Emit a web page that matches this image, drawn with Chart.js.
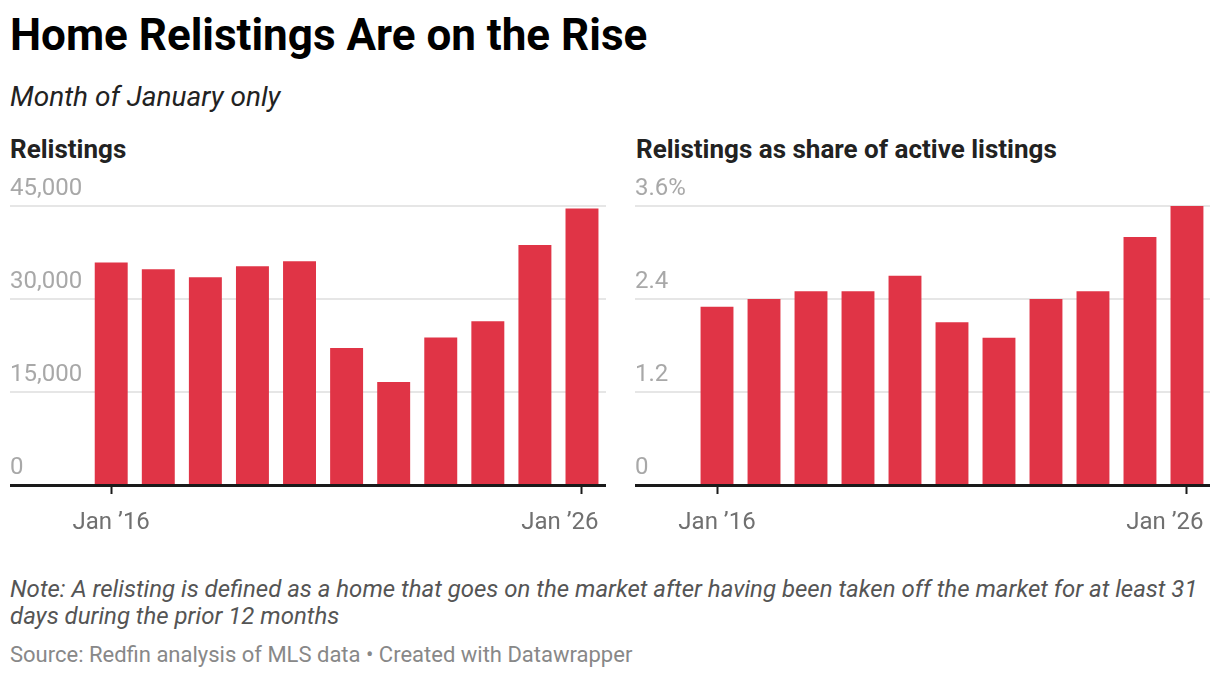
<!DOCTYPE html>
<html>
<head>
<meta charset="utf-8">
<script src="https://cdn.jsdelivr.net/npm/chart.js@4.4.1/dist/chart.umd.min.js"></script>
<style>
  body { margin: 0; background: #fff; font-family: Roboto, sans-serif; }
  #wrap { position: relative; width: 1220px; height: 678px; overflow: hidden; }
  .txt { position: absolute; left: 10px; white-space: nowrap; }
  #title { top: 9px; font-size: 44px; font-weight: 700; color: #000; }
  #subtitle { top: 80px; font-size: 28px; font-style: italic; color: #222; }
  .panel { top: 134px; font-size: 26px; font-weight: 700; color: #222; }
  #note { top: 576px; font-size: 24px; font-style: italic; color: #555; line-height: 27px; white-space: normal; width: 1205px; }
  #source { top: 642px; font-size: 22px; color: #888; }
  canvas { position: absolute; }
</style>
</head>
<body>
<div id="wrap">
  <div class="txt" id="title">Home Relistings Are on the Rise</div>
  <div class="txt" id="subtitle">Month of January only</div>
  <div class="txt panel" style="left:10px">Relistings</div>
  <div class="txt panel" style="left:636px">Relistings as share of active listings</div>
  <div style="position:absolute;left:10px;top:170px;width:596px;height:390px"><canvas id="leftChart"></canvas></div>
  <div style="position:absolute;left:635px;top:170px;width:575px;height:390px"><canvas id="rightChart"></canvas></div>
  <div class="txt" id="note">Note: A relisting is defined as a home that goes on the market after having been taken off the market for at least 31 days during the prior 12 months</div>
  <div class="txt" id="source">Source: Redfin analysis of MLS data • Created with Datawrapper</div>
</div>
<script>
// DATA
var years = [2016, 2017, 2018, 2019, 2020, 2021, 2022, 2023, 2024, 2025, 2026];
var relistings = [35900, 34800, 33500, 35300, 36100, 22100, 16600, 23800, 26400, 38700, 44600];
var shareOfActive = [2.3, 2.4, 2.5, 2.5, 2.7, 2.1, 1.9, 2.4, 2.5, 3.2, 3.6];
var xTickYears = [2016, 2026];
var leftTicks = [0, 15000, 30000, 45000];
var rightTicks = [0, 1.2, 2.4, 3.6];

var barColor = '#e03446';

function yearLabel(v) {
    return 'Jan \u2019' + String(v).slice(2);
}

// x labels drawn by hand so the last one stays inside the last bar edge (like datawrapper)
var xLabelPlugin = {
    id: 'xLabels',
    afterDraw: function (chart) {
        var ctx = chart.ctx;
        var xs = chart.scales.x;
        var bars = chart.getDatasetMeta(0).data;
        var lastBar = bars[bars.length - 1];
        var maxRight = lastBar.x + lastBar.width / 2;
        ctx.save();
        ctx.font = '24px Roboto';
        ctx.fillStyle = '#707070';
        ctx.textAlign = 'center';
        ctx.textBaseline = 'alphabetic';
        xTickYears.forEach(function (yr) {
            var txt = yearLabel(yr);
            var w = ctx.measureText(txt).width;
            var x = xs.getPixelForValue(yr);
            if (x + w / 2 > maxRight) x = maxRight - w / 2;
            ctx.fillText(txt, x, chart.chartArea.bottom + 44);
        });
        ctx.restore();
    }
};

function makeChart(id, values, yTicks, xMin, xMax, fmt) {
    var config = {
        type: 'bar',
        data: {
            labels: years,
            datasets: [{
                data: values,
                backgroundColor: barColor,
                borderWidth: 0,
                barPercentage: 0.7,
                categoryPercentage: 1
            }]
        },
        options: {
            responsive: true,
            maintainAspectRatio: false,
            animation: false,
            layout: { padding: { top: 36, bottom: 66, left: 0, right: 0 } },
            plugins: { legend: { display: false }, tooltip: { enabled: false } },
            scales: {
                x: {
                    type: 'linear',
                    min: xMin,
                    max: xMax,
                    offset: false,
                    afterBuildTicks: function (scale) {
                        scale.ticks = xTickYears.map(function (v) { return { value: v }; });
                    },
                    grid: {
                        offset: false,
                        drawOnChartArea: false,
                        drawTicks: true,
                        tickLength: 9,
                        tickWidth: 2,
                        tickColor: '#1a1a1a'
                    },
                    border: { display: true, color: '#1a1a1a', width: 3 },
                    ticks: { display: false }
                },
                y: {
                    min: 0,
                    max: yTicks[yTicks.length - 1],
                    afterBuildTicks: function (scale) {
                        scale.ticks = yTicks.map(function (v) { return { value: v }; });
                    },
                    grid: {
                        drawTicks: false,
                        lineWidth: 2,
                        color: function (ctx) { return ctx.tick && ctx.tick.value === 0 ? 'rgba(0,0,0,0)' : '#e6e6e6'; }
                    },
                    border: { display: false },
                    ticks: {
                        mirror: true,
                        padding: 0,
                        labelOffset: -17,
                        color: '#a8a8a8',
                        font: { family: 'Roboto', size: 24 },
                        callback: fmt
                    }
                }
            }
        },
        plugins: [xLabelPlugin]
    };
    return new Chart(document.getElementById(id), config);
}

makeChart('leftChart', relistings, leftTicks, 2013.85, 2026.51, function (v) {
    return v.toLocaleString('en-US');
});
makeChart('rightChart', shareOfActive, rightTicks, 2014.255, 2026.49, function (v) {
    if (v === 0) return '0';
    var s = v.toFixed(1);
    return v === 3.6 ? s + '%' : s;
});
</script>
</body>
</html>
